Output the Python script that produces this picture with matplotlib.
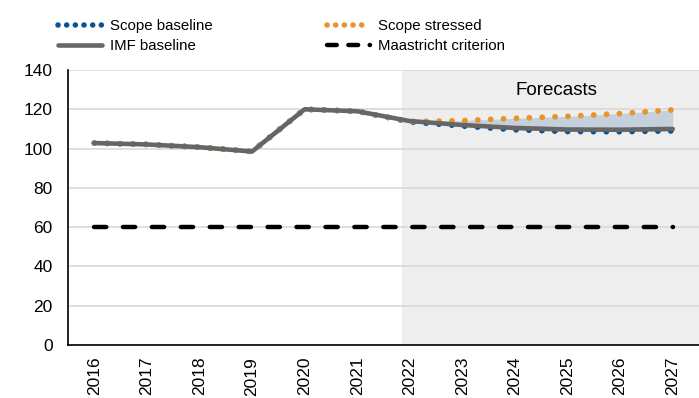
import matplotlib
matplotlib.use("Agg")
import matplotlib.pyplot as plt
from matplotlib.lines import Line2D
import numpy as np

plt.rcParams['font.family'] = ['Liberation Sans', 'DejaVu Sans']

years = ['2016', '2017', '2018', '2019', '2020', '2021', '2022', '2023', '2024', '2025', '2026', '2027']
imf_baseline = [102.8, 102.1, 100.7, 98.5, 120.0, 119.0, 114.0, 112.0, 110.5, 109.7, 109.6, 110.0]
scope_baseline = [102.8, 102.1, 100.7, 98.5, 120.0, 119.0, 113.6, 111.5, 109.6, 108.7, 108.6, 109.0]
scope_stressed = [102.8, 102.1, 100.7, 98.5, 120.0, 119.0, 113.8, 114.2, 115.4, 116.4, 117.8, 119.7]
maastricht = [60] * len(years)
forecast_start = 5.85
fill_start_idx = 6

x = np.arange(len(years))

fig = plt.figure(figsize=(6.99, 3.98), dpi=100)
ax = fig.add_axes([68/699, 1-345/398, 1-68/699, (345-70)/398])

ax.axvspan(forecast_start, len(years)-0.5, color='#eeeeee', zorder=0, lw=0)
ax.set_yticks(np.arange(0, 141, 20))
ax.yaxis.grid(True, color='#d9d9d9', lw=1.2, zorder=0.5)
ax.set_axisbelow(True)

xf = x[fill_start_idx-1:]
ax.fill_between(xf, np.array(scope_baseline)[fill_start_idx-1:], np.array(scope_stressed)[fill_start_idx-1:],
                color='#c4d1dd', lw=0, zorder=1)

c_blue = '#0b5394'
c_orange = '#e8942a'
c_gray = '#666666'

ax.plot(x, maastricht, color='black', lw=3.2, dashes=(2.76, 3.75), dash_capstyle='round', zorder=2)
ax.plot(x, scope_baseline, color=c_blue, lw=4.2, dashes=(0.01, 2.2), dash_capstyle='round', zorder=3)
ax.plot(x, scope_stressed, color=c_orange, lw=4.2, dashes=(0.01, 2.2), dash_capstyle='round', zorder=3.2)
ax.plot(x, imf_baseline, color=c_gray, lw=3.3, zorder=3.5, solid_capstyle='round')

ax.text(8.78, 129.5, 'Forecasts', fontsize=13.5, ha='center', va='center')

ax.set_xlim(-0.5, len(years)-0.5)
ax.set_ylim(0, 140)
ax.set_xticks(x)
ax.set_xticklabels(years, rotation=90)
ax.tick_params(axis='both', length=0, labelsize=12.5)
ax.tick_params(axis='y', pad=11)
ax.tick_params(axis='x', pad=8.5)
for s in ['top', 'right']:
    ax.spines[s].set_visible(False)
for s in ['left', 'bottom']:
    ax.spines[s].set_color('black')
    ax.spines[s].set_linewidth(1.2)

h_sb = Line2D([], [], color=c_blue, lw=4.0, dashes=(0.01, 1.55), dash_capstyle='round')
h_ss = Line2D([], [], color=c_orange, lw=4.0, dashes=(0.01, 1.55), dash_capstyle='round')
h_imf = Line2D([], [], color=c_gray, lw=3.3, solid_capstyle='round')
h_mas = Line2D([], [], color='black', lw=3.2, dashes=(2.2, 2.6), dash_capstyle='round')

fig.legend([h_sb, h_imf, h_ss, h_mas], ['Scope baseline', 'IMF baseline', 'Scope stressed', 'Maastricht criterion'],
           ncol=2, loc='upper left', bbox_to_anchor=(58/699, 1-19/398), frameon=False, fontsize=10.8,
           handlelength=2.9, handletextpad=0.55, columnspacing=7.6, labelspacing=0.42,
           borderaxespad=0, borderpad=0)

fig.savefig('out.png', dpi=100)
